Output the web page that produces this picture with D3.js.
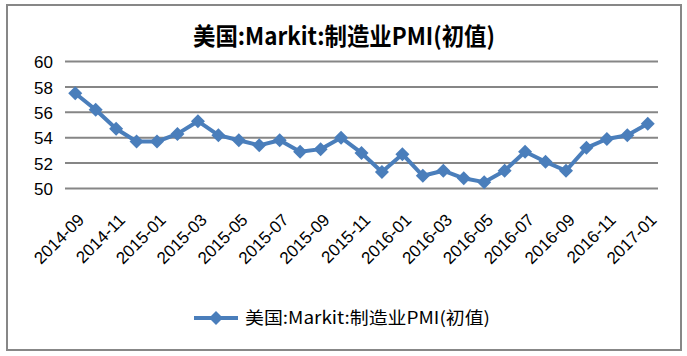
<!DOCTYPE html>
<html><head><meta charset="utf-8">
<script src="https://cdn.jsdelivr.net/npm/d3@7"></script>
<style>body{margin:0;background:#fff}</style>
</head><body>
<script>
const title = "美国:Markit:制造业PMI(初值)";
const months = ["2014-09","2014-10","2014-11","2014-12","2015-01","2015-02","2015-03","2015-04","2015-05","2015-06","2015-07","2015-08","2015-09","2015-10","2015-11","2015-12","2016-01","2016-02","2016-03","2016-04","2016-05","2016-06","2016-07","2016-08","2016-09","2016-10","2016-11","2016-12","2017-01"];
const values = [57.5,56.2,54.7,53.7,53.7,54.3,55.3,54.2,53.8,53.4,53.8,52.9,53.1,54.0,52.8,51.3,52.7,51.0,51.4,50.8,50.5,51.4,52.9,52.1,51.4,53.2,53.9,54.2,55.1];
const yTicks = [50,52,54,56,58,60];

const W = 687, H = 356;
const color = "#4A7EBB";
const svg = d3.select("body").append("svg").attr("width", W).attr("height", H);

svg.append("rect").attr("x", 7).attr("y", 5).attr("width", 674).attr("height", 345)
  .attr("fill", "#fff").attr("stroke", "#878787").attr("stroke-width", 2);

const x = d3.scaleBand().domain(months).range([65, 658]);
const y = d3.scaleLinear().domain([50, 60]).range([188.5, 61.5]);

// gridlines
svg.append("g").selectAll("line").data(yTicks).join("line")
  .attr("x1", 65).attr("x2", 658)
  .attr("y1", d => y(d)).attr("y2", d => y(d))
  .attr("stroke", "#868686").attr("stroke-width", 2);

// y axis labels
const yAxis = d3.axisLeft(y).tickValues(yTicks).tickSize(0).tickPadding(0).tickFormat(d3.format("d"));
const yg = svg.append("g").attr("transform", "translate(53,0)").call(yAxis);
yg.select(".domain").remove();
yg.selectAll("text").attr("font-family", "Liberation Sans, Arial, sans-serif").attr("font-size", 17).attr("fill", "#000").attr("dy", "0.36em");

// x labels
const cx = d => x(d) + x.bandwidth() / 2;
svg.append("g").selectAll("text").data(months.filter((d, i) => i % 2 === 0)).join("text")
  .attr("transform", d => `translate(${cx(d) + 10},221) rotate(-45)`)
  .attr("text-anchor", "end")
  .attr("font-family", "Liberation Sans, Arial, sans-serif").attr("font-size", 17)
  .text(d => d);

// line
const line = d3.line().x((d, i) => cx(months[i])).y(d => y(d));
svg.append("path").datum(values).attr("d", line).attr("fill", "none")
  .attr("stroke", color).attr("stroke-width", 4).attr("stroke-linejoin", "round");

const diamond = d3.symbol().type(d3.symbolDiamond2).size(125);
svg.append("g").selectAll("path").data(values).join("path")
  .attr("transform", (d, i) => `translate(${cx(months[i])},${y(d)})`)
  .attr("d", diamond).attr("fill", color);

// title
svg.append("g").attr("transform", "translate(344,45) scale(1,1.15)")
  .append("text").attr("x", 0).attr("y", 0).attr("text-anchor", "middle")
  .attr("font-family", "Noto Sans CJK SC, sans-serif").attr("font-weight", "bold").attr("font-size", 21)
  .attr("textLength", 302).attr("lengthAdjust", "spacingAndGlyphs")
  .text(title);

// legend
svg.append("line").attr("x1", 194).attr("x2", 238).attr("y1", 318).attr("y2", 318)
  .attr("stroke", color).attr("stroke-width", 4);
svg.append("path").attr("transform", "translate(216,318)").attr("d", diamond).attr("fill", color);
svg.append("text").attr("x", 245).attr("y", 324)
  .attr("font-family", "Noto Sans CJK SC, sans-serif").attr("font-size", 17)
  .attr("textLength", 245).attr("lengthAdjust", "spacingAndGlyphs")
  .text(title);
</script>
</body></html>
